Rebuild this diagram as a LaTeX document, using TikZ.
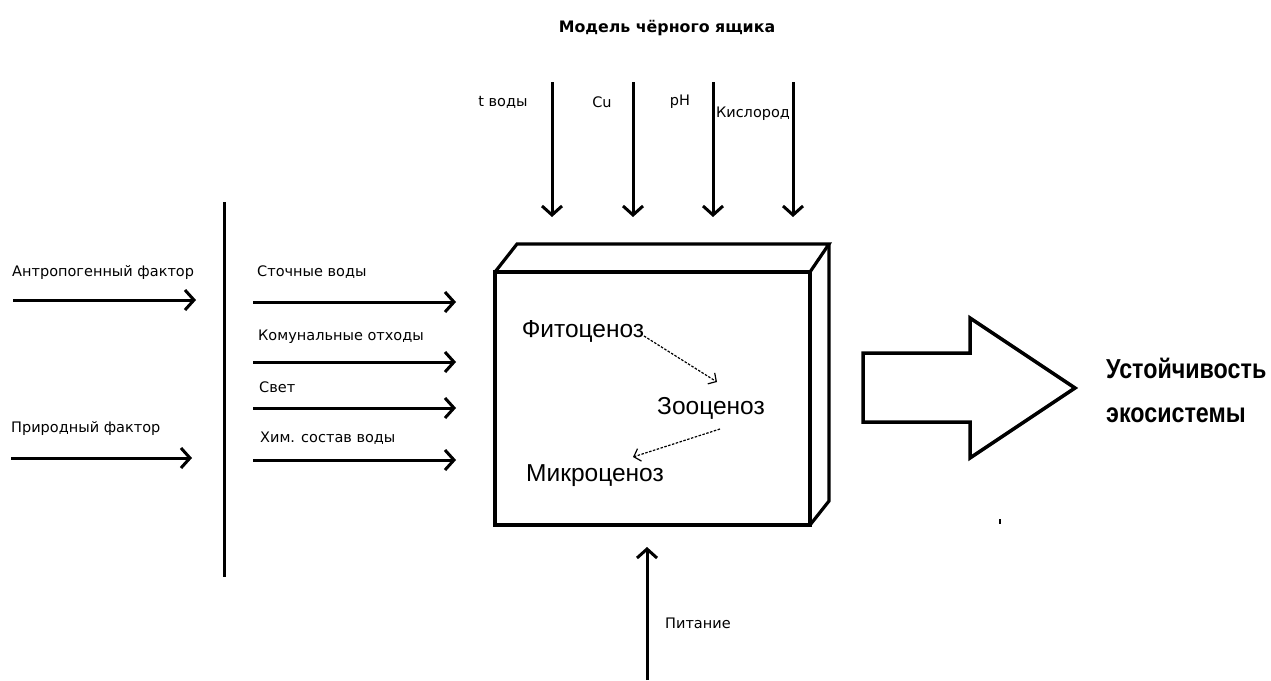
\documentclass[tikz,border=0pt]{standalone}
\usepackage{fontspec}
\setmainfont{Liberation Sans}
\newfontfamily\labelfont{DejaVu Sans}
\newfontfamily\narrowfont[FakeStretch=0.85]{Liberation Sans}
\usetikzlibrary{arrows.meta}

\begin{document}
\begin{tikzpicture}[x=1pt,y=-1pt,
  flow/.style={line width=3pt,-{Straight Barb[length=9pt,width=20pt]}},
  thin flow/.style={line width=1.2pt,dash pattern=on 2.5pt off 1.5pt,-{Straight Barb[length=6pt,width=13pt,line width=1.2pt]}},
  lbl/.style={font=\labelfont\fontsize{14.5}{16}\selectfont,inner sep=0pt},
  inner/.style={font=\fontsize{24.5}{28}\selectfont,inner sep=0pt},
  boxline/.style={line width=3.2pt,line join=miter}
]
\useasboundingbox (0,0) rectangle (1271,680);

% title
\node[font=\labelfont\bfseries\fontsize{15.8}{18}\selectfont,inner sep=0pt] (title) at (667,28) {Модель чёрного ящика};

% inputs from above
\foreach \n/\x in {tv/552,cu/633,ph/713,ox/793}{
  \coordinate (\n s) at (\x,82);
  \coordinate (\n e) at (\x,217);
  \draw[flow] (\n s) -- (\n e);
}
\node[lbl] (ltv) at (503,102) {t воды};
\node[lbl] (lcu) at (602,102) {Cu};
\node[lbl] (lph) at (680,102) {pH};
\node[lbl] (lox) at (753,114) {Кислород};

% dividing line
\coordinate (divtop) at (224,202);
\coordinate (divbot) at (224,577);
\draw[line width=3pt] (divtop) -- (divbot);

% left factors
\node[lbl,anchor=west] (lant) at (12,272) {Антропогенный фактор};
\coordinate (ants) at (13,300);
\coordinate (ante) at (196,300);
\draw[flow] (ants) -- (ante);
\node[lbl,anchor=west] (lnat) at (11,428) {Природный фактор};
\coordinate (nats) at (11,458);
\coordinate (nate) at (192,458);
\draw[flow] (nats) -- (nate);

% right inputs
\node[lbl,anchor=west] (lsw) at (257,272) {Сточные воды};
\node[lbl,anchor=west] (lko) at (258,337) {Комунальные отходы};
\node[lbl,anchor=west] (lsv) at (259,387) {Свет};
\node[lbl,anchor=west] (lhs) at (260,438) {Хим. состав воды};
\foreach \n/\y in {sw/302,ko/362,sv/408,hs/460}{
  \coordinate (\n s) at (253,\y);
  \coordinate (\n e) at (456,\y);
  \draw[flow] (\n s) -- (\n e);
}

% the box
\coordinate (ftl) at (495,272);
\coordinate (ftr) at (810,272);
\coordinate (fbr) at (810,525);
\coordinate (fbl) at (495,525);
\coordinate (btl) at (517,244);
\coordinate (btr) at (829,244);
\coordinate (bbr) at (829,501);
\draw[boxline] (ftl) rectangle (fbr);
\draw[boxline] (ftl) -- (btl) -- (btr) -- (ftr);
\draw[boxline] (btr) -- (bbr) -- (fbr);

% inside the box
\node[inner] (fito) at (583,331) {Фитоценоз};
\node[inner] (zoo) at (711,408) {Зооценоз};
\node[inner] (micro) at (595,476) {Микроценоз};
\coordinate (fz1) at (644,336);
\coordinate (fz2) at (717,382);
\coordinate (zm1) at (720,429);
\coordinate (zm2) at (633,457);
\draw[thin flow] (fz1) -- (fz2);
\draw[thin flow] (zm1) -- (zm2);

% output arrow
\draw[line width=3.5pt,line join=miter] (863,353) -- (970,353) -- (970,318) -- (1075,388)
  -- (970,458) -- (970,422) -- (863,422) -- cycle;
\node[font=\narrowfont\bfseries\fontsize{27.4}{44}\selectfont,align=left,anchor=west,inner sep=0pt]
  (res) at (1106,390) {Устойчивость\\экосистемы};

% small mark
\coordinate (m1) at (1000,519);
\coordinate (m2) at (1000,524);
\draw[line width=1.5pt] (m1) -- (m2);

% nutrition from below
\coordinate (pits) at (647,680);
\coordinate (pite) at (647,547);
\draw[flow] (pits) -- (pite);
\node[lbl,anchor=west] (lpit) at (665,623) {Питание};
\end{tikzpicture}
\end{document}
